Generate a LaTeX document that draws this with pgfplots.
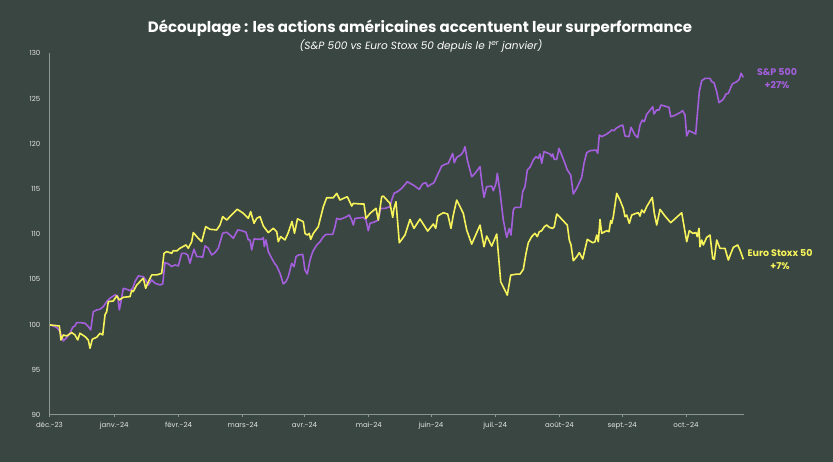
\documentclass[border=0pt]{standalone}
\usepackage{pgfplots}
\pgfplotsset{compat=1.18}
\usepackage{fontspec}
\setmainfont{Poppins}
\definecolor{bg}{HTML}{3A4642}
\definecolor{spx}{HTML}{A35FDC}
\definecolor{sxe}{HTML}{F6F35B}
\definecolor{axisgray}{HTML}{8C9590}
\definecolor{ticktext}{HTML}{E2E4E3}

% S&P 500 et Euro Stoxx 50, base 100 (x = position horizontale)
\pgfplotstableread{
x y
50 99.96
56.7 99.7
60 99.22
63.3 98.19
66.7 98.56
70 99.04
72.7 99.7
75 99.85
76.7 100.22
80 100.22
85 100.14
88.3 99.78
90.7 99.41
93.3 101.43
96.7 101.62
100 101.69
103.3 101.99
106.7 102.54
110 102.91
115 103.28
117.7 103.17
119.3 101.62
120.7 102.36
123.3 104.01
126.7 103.9
130 103.76
132.7 104.01
135 104.75
138.3 105.38
143.3 105.3
145.7 104.93
148.3 104.38
151.7 104.93
155 104.57
160 104.38
162.7 104.49
165 106.85
168.3 106.71
171.7 106.41
175 106.59
178.3 106.48
181.7 107.88
185 107.88
187.7 107.7
190 106.78
191.7 107.52
194 108.33
196.7 107.52
200 107.52
202.7 107.44
205 108.7
208.3 108.44
211.7 107.7
215 107.96
218.3 108.44
222.7 110.1
226.7 110.21
230 109.91
233.3 109.54
237.7 110.46
241.7 110.39
246 110.21
248.3 109.36
250 109.36
251.7 108.25
254 109.47
258.3 109.43
261.7 109.43
263.3 109.62
264.3 108.62
266 109.36
268.3 108.07
271.7 107.33
275 106.7
276.7 106.48
280 105.67
283.3 104.49
286 104.75
288.3 105.3
291.7 106.77
294 106.4
296 107.5
298.3 107.69
302.7 107.76
305 106.03
307.3 105.59
310 107.13
312.7 108.06
316.7 108.79
320 109.16
323.3 109.71
326 109.97
332.7 109.97
335 110.82
336.7 111.74
340 111.63
345 111.85
349.3 112.11
351.7 111.56
353.3 111.01
355 111.74
363.3 111.85
366 111.56
368.3 110.38
370 111.19
375 111.37
378.3 111.56
380.7 112.85
385 112.85
390 113.03
391.7 113.77
394 114.51
397.3 114.69
401.7 115.06
407.3 115.8
413.3 115.43
419.3 114.95
421.7 115.43
423.3 115.61
426 115.69
427.7 115.25
430 115.43
434 115.69
436.7 116.35
441.7 117.53
445 117.72
448.3 117.83
452.7 118.93
454.3 117.9
456.7 118.49
460.7 118.75
463.3 119.12
465 119.67
467.3 118.2
471.7 116.35
475 116.72
480 117.46
481.7 115.8
484 114.07
486.7 115.25
491.7 115.32
493.3 114.8
496 115.61
497.3 116.72
500 114.69
503.3 111.56
506.7 109.64
509.3 110.64
511 109.9
513.3 112.67
515 112.96
520.7 112.96
522.7 114.7
525 115.25
527.3 117.09
530 117.39
533.3 118.2
536 118.57
538.3 118.38
540 118.86
541.7 117.83
544 119.12
546.7 119.01
550 118.86
551.7 118.57
552.7 118.86
554.3 118.27
556.7 118.27
559 119.49
561.7 118.75
565 117.83
567.3 117.09
570.7 116.54
573.3 114.44
576.7 115.06
581.7 116.28
584 117.83
586.7 119.01
590 119.23
596 119.3
597.7 118.94
599.3 120.96
601.7 120.78
606.7 121.07
610 121.33
611.7 121.52
614 121.44
616 121.7
620 121.96
622.7 122.07
625 120.85
629 120.78
631 121.81
635 120.96
637.7 120.67
640 122.07
642.3 122.62
644.3 122.44
646.7 123.25
650.7 123.8
652.7 124.1
654 123.29
656.7 123.73
659 123.73
661 124.28
666.7 124.1
669 124.02
670.7 122.99
673.3 123.07
676.7 123.25
680 123.44
682.7 123.66
685 123.18
686.7 120.85
689 121.44
693.3 121.22
695.7 121.07
697.7 123.73
699.3 125.76
701.7 126.97
705 127.23
710 127.23
711.7 126.86
714 126.75
716.7 125.76
719 124.54
723.3 124.91
726 125.5
728.3 125.57
732.3 126.61
736.7 126.86
739.3 127.12
741 127.79
743.3 127.34
}\spx

\pgfplotstableread{
x y
50 99.96
59.3 99.85
61 98.3
63.3 98.85
66.7 98.74
71.7 99.11
75 98.85
77.7 98.3
80 99.04
85 98.67
88.3 98.3
90 97.38
92.3 98.38
96.7 98.6
100 99.04
102.7 98.85
105 101.07
106.7 101.43
108.3 102.54
113.3 102.61
116.7 103.17
119.3 102.72
123.3 103.02
130 103.09
131.7 103.76
133.3 103.65
136.7 104.38
143.3 105.12
145.7 104.01
147.7 104.57
151.7 105.49
156.7 105.49
161.7 105.67
164 107.88
166.7 108.07
171.7 107.88
173.3 108.18
176.7 108.14
180 108.44
186 108.81
188.3 108.44
191.7 109.17
193.3 110.17
198.3 109.54
201.7 109.17
205.7 110.83
210 110.54
216.7 110.46
220 111.02
222.7 111.94
226.7 111.57
233.3 112.31
237.3 112.75
243.3 112.31
248.3 111.75
250.7 112.49
254 111.2
256.7 111.75
260 111.94
263.3 110.91
268.3 110.17
273.3 110.65
276.7 110.28
278.3 109.17
280.7 109.73
285 109.36
288 110.1
292 111.4
294.5 110.1
297.5 111.7
303.3 111.37
305 110.08
307.3 109.9
309.3 110.08
310.7 109.42
313.3 110.08
318.3 110.82
323.3 113.03
326.7 114.03
333.3 114.03
336.7 114.51
340 113.77
343.3 113.95
347.3 114.14
351.7 113.11
353.3 113.4
361.7 113.33
364 113.33
366 111.74
370 112.3
376 112.85
378.3 111.56
381.7 114.14
383.3 114.21
390 113.4
392.7 111.85
394 112.85
396 113.59
399.3 109.05
405 109.9
410 111.63
414 110.64
420 111.67
427.7 110.34
433.3 111.12
435.7 110.64
437.7 112.0
443.3 112.37
447.7 112.22
451 110.64
453.3 112.11
456.7 113.77
463.3 112.3
466.7 110.45
471.7 108.9
480 111.0
484 108.61
486.7 109.79
491.7 108.68
496.7 110.01
500.7 104.74
507.3 103.26
510.7 105.47
516.7 105.58
520 105.58
523.3 106.1
526 107.87
528.3 109.05
531.7 109.72
535 110.09
537.3 109.72
539.3 110.27
541.7 110.38
544.3 110.82
546.7 111.01
549.3 110.75
552.7 110.64
554.3 110.82
556.7 112.22
560 111.86
565 111.27
567.3 111.01
569.3 109.35
571 108.8
573.3 107.06
576.7 107.5
579.3 107.95
582.7 107.25
587.3 109.42
592.7 109.05
595 109.16
596.7 109.9
598.3 109.16
600 111.63
601.7 110.09
606.7 110.38
609 110.27
610.7 111.49
611.7 111.19
613.3 111.93
616.7 114.51
620 113.77
623.3 112.85
625 111.93
626.7 112.11
629.3 111.19
631.7 112.11
636 112.3
638.3 112.37
640 112.0
641.7 112.67
644 112.37
646.7 113.04
652.3 114.07
654.3 112.3
656.7 111.01
660 112.74
665 112.0
670.7 111.27
681.7 112.37
686.7 109.16
689.3 110.38
692.7 110.09
696 110.16
697.3 109.72
699 110.64
700 108.61
701.7 109.35
703.3 108.8
706.7 109.64
710 109.9
712.7 107.32
714.3 107.21
716.7 109.35
720 108.43
725 108.43
728.3 107.14
733.3 108.54
737.7 108.8
740 108.24
743.3 107.21
}\sxe

\begin{document}
\begin{tikzpicture}
\fill[bg] (0pt,0pt) rectangle (833pt,462pt);
\node[text=white, font=\fontsize{15}{18}\selectfont\bfseries] at (420pt,434pt)
  {Découplage : les actions américaines accentuent leur surperformance};
\node[text=white, font=\fontsize{10.5}{12}\selectfont\itshape] at (421pt,416pt)
  {(S\&P 500 vs Euro Stoxx 50 depuis le 1\textsuperscript{er} janvier)};
\begin{axis}[
    at={(49.4pt,47pt)}, anchor=south west,
    scale only axis,
    width=694.6pt, height=361.7pt,
    xmin=49.4, xmax=744,
    ymin=90, ymax=130,
    ytick={90,95,...,130},
    xtick={49.4,114.2,178.5,242.8,304.5,368.8,430.9,495.2,559.5,622.2,686},
    xticklabels={déc.-23,janv.-24,févr.-24,mars-24,avr.-24,mai-24,juin-24,juil.-24,août-24,sept.-24,oct.-24},
    axis lines*=left,
    axis line style={axisgray, line width=1pt},
    ytick style={draw=none},
    xtick style={axisgray, line width=0.8pt},
    major tick length=2.5pt,
    tick align=outside,
    ticklabel style={font=\fontsize{7}{8}\selectfont, text=ticktext},
    /pgf/number format/assume math mode=true,
    yticklabel style={xshift=-3pt},
    xticklabel style={yshift=-1pt},
    clip=false,
]
\addplot[spx, line width=1.6pt, line join=round] table {\spx};
\addplot[sxe, line width=1.6pt, line join=round] table {\sxe};
\node[spx, font=\fontsize{9.5}{13}\selectfont\bfseries, align=center] at (axis cs:777,127.2) {S\&P 500\\+27\%};
\node[sxe, font=\fontsize{9.5}{13}\selectfont\bfseries, align=center] at (axis cs:780,107.2) {Euro Stoxx 50\\+7\%};
\end{axis}
\end{tikzpicture}
\end{document}
